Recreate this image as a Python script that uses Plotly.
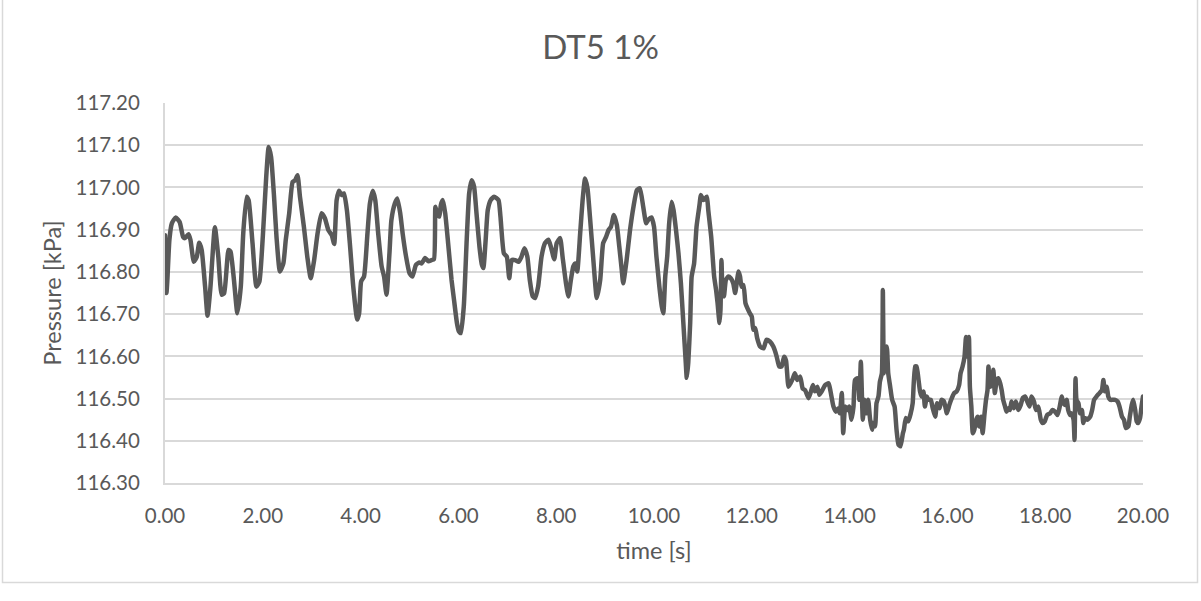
import plotly.graph_objects as go

# Pressure trace, DT5 at 1 %
time_s = [
    0.00, 0.03, 0.05, 0.09, 0.14, 0.22, 0.30, 0.37, 0.41, 0.48, 0.52, 0.59, 0.65, 0.70, 0.75, 0.82,
    0.87, 0.93, 1.02, 1.09, 1.16, 1.21, 1.30, 1.34, 1.41, 1.48, 1.55, 1.60, 1.67, 1.71, 1.79, 1.87,
    1.93, 2.00, 2.07, 2.12, 2.17, 2.23, 2.28, 2.35, 2.42, 2.47, 2.54, 2.61, 2.66, 2.71, 2.76, 2.84,
    2.91, 2.98, 3.05, 3.12, 3.20, 3.27, 3.34, 3.41, 3.46, 3.51, 3.56, 3.61, 3.66, 3.72, 3.78, 3.85,
    3.93, 3.97, 4.01, 4.07, 4.14, 4.19, 4.25, 4.30, 4.36, 4.43, 4.48, 4.53, 4.59, 4.63, 4.70, 4.75,
    4.81, 4.86, 4.93, 5.00, 5.06, 5.13, 5.20, 5.25, 5.32, 5.39, 5.45, 5.50, 5.53, 5.57, 5.61, 5.64,
    5.68, 5.73, 5.79, 5.86, 5.91, 5.97, 6.01, 6.05, 6.11, 6.17, 6.22, 6.27, 6.32, 6.37, 6.43, 6.48,
    6.51, 6.56, 6.60, 6.66, 6.73, 6.82, 6.86, 6.93, 6.99, 7.04, 7.09, 7.16, 7.23, 7.29, 7.35, 7.41,
    7.46, 7.52, 7.57, 7.63, 7.70, 7.77, 7.84, 7.89, 7.96, 8.01, 8.08, 8.13, 8.20, 8.25, 8.30, 8.35,
    8.39, 8.43, 8.49, 8.54, 8.59, 8.64, 8.69, 8.76, 8.83, 8.90, 8.96, 9.02, 9.07, 9.12, 9.18, 9.24,
    9.29, 9.34, 9.37, 9.44, 9.51, 9.58, 9.65, 9.71, 9.78, 9.84, 9.88, 9.95, 10.00, 10.05, 10.11, 10.16,
    10.19, 10.23, 10.27, 10.31, 10.36, 10.40, 10.45, 10.50, 10.55, 10.60, 10.65, 10.67, 10.70, 10.74, 10.77, 10.82,
    10.87, 10.93, 10.96, 11.01, 11.08, 11.11, 11.17, 11.23, 11.27, 11.30, 11.34, 11.36, 11.38, 11.40, 11.43, 11.47,
    11.52, 11.57, 11.62, 11.66, 11.69, 11.73, 11.76, 11.79, 11.83, 11.87, 11.91, 11.96, 12.00, 12.03, 12.07, 12.11,
    12.17, 12.24, 12.30, 12.37, 12.44, 12.51, 12.56, 12.61, 12.66, 12.70, 12.75, 12.79, 12.84, 12.88, 12.93, 12.99,
    13.04, 13.09, 13.16, 13.20, 13.25, 13.29, 13.34, 13.38, 13.43, 13.50, 13.57, 13.61, 13.67, 13.72, 13.77, 13.80,
    13.84, 13.87, 13.91, 13.95, 13.99, 14.04, 14.08, 14.11, 14.16, 14.20, 14.23, 14.27, 14.30, 14.34, 14.38, 14.42,
    14.46, 14.48, 14.52, 14.55, 14.59, 14.62, 14.66, 14.68, 14.70, 14.73, 14.76, 14.79, 14.83, 14.87, 14.92, 14.96,
    15.00, 15.04, 15.09, 15.11, 15.15, 15.20, 15.25, 15.29, 15.34, 15.37, 15.41, 15.44, 15.47, 15.51, 15.54, 15.58,
    15.61, 15.66, 15.70, 15.75, 15.79, 15.84, 15.88, 15.93, 15.99, 16.04, 16.09, 16.14, 16.19, 16.24, 16.27, 16.31,
    16.35, 16.38, 16.41, 16.44, 16.46, 16.49, 16.52, 16.55, 16.59, 16.62, 16.65, 16.69, 16.72, 16.76, 16.79, 16.82,
    16.84, 16.87, 16.91, 16.94, 16.97, 17.01, 17.04, 17.08, 17.11, 17.14, 17.18, 17.21, 17.25, 17.28, 17.31, 17.36,
    17.40, 17.45, 17.50, 17.54, 17.59, 17.62, 17.68, 17.72, 17.77, 17.81, 17.86, 17.91, 17.95, 17.99, 18.04, 18.10,
    18.15, 18.20, 18.25, 18.29, 18.34, 18.37, 18.41, 18.44, 18.47, 18.51, 18.54, 18.58, 18.60, 18.62, 18.64, 18.68,
    18.71, 18.75, 18.78, 18.81, 18.86, 18.92, 18.96, 19.00, 19.05, 19.11, 19.16, 19.19, 19.22, 19.26, 19.29, 19.33,
    19.38, 19.43, 19.48, 19.52, 19.57, 19.61, 19.65, 19.70, 19.73, 19.77, 19.80, 19.84, 19.87, 19.90, 19.94, 19.97,
    20.00,
]

pressure_kpa = [
    116.887, 116.750, 116.785, 116.876, 116.915, 116.929, 116.918, 116.883, 116.880, 116.889, 116.876, 116.824, 116.836, 116.869, 116.852, 116.765,
    116.696, 116.765, 116.906, 116.836, 116.746, 116.750, 116.852, 116.848, 116.781, 116.702, 116.765, 116.891, 116.978, 116.970, 116.868, 116.765,
    116.777, 116.883, 117.025, 117.096, 117.072, 116.978, 116.883, 116.801, 116.820, 116.876, 116.939, 117.013, 117.017, 117.029, 116.978, 116.907,
    116.836, 116.785, 116.828, 116.891, 116.939, 116.927, 116.899, 116.887, 116.866, 116.970, 116.992, 116.982, 116.986, 116.946, 116.868, 116.765,
    116.687, 116.702, 116.777, 116.789, 116.891, 116.962, 116.992, 116.970, 116.891, 116.813, 116.789, 116.746, 116.844, 116.923, 116.962, 116.974,
    116.939, 116.891, 116.836, 116.797, 116.789, 116.816, 116.822, 116.820, 116.833, 116.825, 116.828, 116.830, 116.954, 116.935, 116.931, 116.958,
    116.970, 116.939, 116.868, 116.781, 116.734, 116.679, 116.659, 116.655, 116.718, 116.876, 116.986, 117.017, 117.002, 116.939, 116.860, 116.817,
    116.809, 116.880, 116.946, 116.970, 116.978, 116.970, 116.931, 116.844, 116.836, 116.785, 116.828, 116.828, 116.824, 116.836, 116.856, 116.836,
    116.781, 116.742, 116.738, 116.765, 116.836, 116.868, 116.876, 116.860, 116.830, 116.868, 116.880, 116.836, 116.773, 116.742, 116.781, 116.813,
    116.820, 116.801, 116.891, 116.970, 117.021, 116.998, 116.931, 116.828, 116.738, 116.781, 116.868, 116.883, 116.899, 116.907, 116.935, 116.911,
    116.860, 116.805, 116.773, 116.828, 116.899, 116.954, 116.994, 116.998, 116.954, 116.915, 116.923, 116.929, 116.907, 116.836, 116.765, 116.718,
    116.702, 116.789, 116.836, 116.915, 116.966, 116.946, 116.899, 116.844, 116.773, 116.679, 116.584, 116.549, 116.584, 116.679, 116.789, 116.820,
    116.907, 116.958, 116.982, 116.970, 116.978, 116.946, 116.883, 116.789, 116.757, 116.726, 116.679, 116.711, 116.828, 116.757, 116.742, 116.781,
    116.789, 116.785, 116.773, 116.750, 116.773, 116.801, 116.789, 116.765, 116.769, 116.726, 116.714, 116.702, 116.694, 116.663, 116.667, 116.643,
    116.623, 116.619, 116.639, 116.635, 116.623, 116.599, 116.576, 116.576, 116.599, 116.590, 116.528, 116.536, 116.548, 116.560, 116.544, 116.552,
    116.524, 116.520, 116.501, 116.513, 116.532, 116.517, 116.528, 116.509, 116.517, 116.532, 116.536, 116.517, 116.481, 116.469, 116.477, 116.465,
    116.513, 116.418, 116.481, 116.473, 116.481, 116.450, 116.481, 116.544, 116.548, 116.497, 116.587, 116.450, 116.497, 116.465, 116.497, 116.450,
    116.426, 116.442, 116.434, 116.489, 116.505, 116.540, 116.560, 116.757, 116.560, 116.615, 116.623, 116.560, 116.528, 116.497, 116.481, 116.426,
    116.391, 116.387, 116.418, 116.426, 116.454, 116.446, 116.465, 116.489, 116.576, 116.576, 116.544, 116.517, 116.505, 116.517, 116.481, 116.505,
    116.497, 116.497, 116.477, 116.457, 116.489, 116.477, 116.497, 116.493, 116.465, 116.485, 116.501, 116.513, 116.517, 116.532, 116.560, 116.576,
    116.599, 116.646, 116.599, 116.646, 116.528, 116.481, 116.418, 116.426, 116.450, 116.457, 116.434, 116.457, 116.418, 116.465, 116.497, 116.520,
    116.576, 116.528, 116.532, 116.568, 116.513, 116.544, 116.548, 116.536, 116.520, 116.497, 116.481, 116.469, 116.477, 116.473, 116.493, 116.477,
    116.493, 116.473, 116.485, 116.501, 116.505, 116.497, 116.481, 116.505, 116.493, 116.473, 116.481, 116.450, 116.442, 116.446, 116.461, 116.465,
    116.473, 116.469, 116.461, 116.477, 116.505, 116.489, 116.485, 116.497, 116.473, 116.461, 116.465, 116.450, 116.402, 116.548, 116.497, 116.489,
    116.465, 116.473, 116.442, 116.454, 116.450, 116.457, 116.473, 116.497, 116.505, 116.513, 116.520, 116.544, 116.517, 116.528, 116.505, 116.497,
    116.497, 116.497, 116.493, 116.481, 116.457, 116.450, 116.430, 116.434, 116.457, 116.485, 116.497, 116.473, 116.446, 116.442, 116.454, 116.481,
    116.505,
]

x_ticks = [0, 2, 4, 6, 8, 10, 12, 14, 16, 18, 20]
y_ticks = [116.30, 116.40, 116.50, 116.60, 116.70, 116.80, 116.90, 117.00, 117.10, 117.20]

TEXT = "#595959"
FONT = "Lato"

fig = go.Figure()
fig.add_trace(go.Scatter(
    x=time_s, y=pressure_kpa, mode="lines",
    line=dict(color="#595959", width=4.5, shape="spline", smoothing=0.5),
    hoverinfo="skip", showlegend=False,
))

W, H = 1201, 601
L, R, T, B = 165, 58, 103, 118
pw, ph = W - L - R, H - T - B

fig.update_layout(
    width=W, height=H,
    margin=dict(l=L, r=R, t=T, b=B),
    paper_bgcolor="white", plot_bgcolor="white",
    font=dict(family=FONT, color=TEXT),
    title=dict(text="DT5 1%", x=0.5, xref="container", xanchor="center",
               y=1 - 47 / H, yref="container", yanchor="middle",
               font=dict(size=33, family=FONT, color=TEXT)),
    xaxis=dict(
        range=[0, 20], tickvals=x_ticks, tickformat=".2f",
        showgrid=False, zeroline=False,
        showline=True, linecolor="#D9D9D9", linewidth=2,
        ticks="", ticklabelstandoff=13,
        tickfont=dict(size=20.5, family=FONT, color=TEXT),
        title=dict(text="time [s]", standoff=17,
                   font=dict(size=23.5, family=FONT, color=TEXT)),
    ),
    yaxis=dict(
        range=[116.30, 117.20], tickvals=y_ticks, tickformat=".2f",
        showgrid=True, gridcolor="#D9D9D9", gridwidth=2,
        zeroline=False,
        showline=True, linecolor="#D9D9D9", linewidth=2,
        ticks="", ticklabelstandoff=19,
        tickfont=dict(size=20.5, family=FONT, color=TEXT),
        title=dict(text="Pressure [kPa]", standoff=7,
                   font=dict(size=23.5, family=FONT, color=TEXT)),
    ),
    shapes=[dict(
        type="rect", xref="paper", yref="paper",
        x0=(2.5 - L) / pw, x1=(1197.5 - L) / pw,
        y0=(H - T - 597.5) / ph, y1=(H - T - 3.5) / ph,
        line=dict(color="#D9D9D9", width=1.5), fillcolor="rgba(0,0,0,0)",
        layer="below",
    )],
)

# round line joins, as in a typical office-style chart export
round_joins = (
    "document.querySelectorAll('.scatterlayer path.js-line').forEach(function(p){"
    "p.style.strokeLinejoin='round';p.style.strokeLinecap='round';});"
)
fig.write_html("out.html", post_script=round_joins)
